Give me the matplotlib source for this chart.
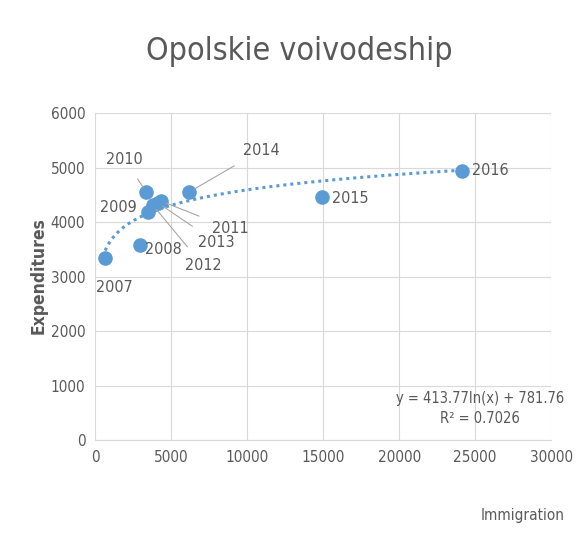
import numpy as np
import matplotlib.pyplot as plt

# data
years = ["2007", "2008", "2009", "2010", "2011", "2012", "2013", "2014", "2015", "2016"]
immigration = [660, 2960, 3480, 3360, 4340, 3800, 4140, 6180, 14930, 24140]
expenditures = [3340, 3580, 4180, 4550, 4385, 4310, 4350, 4550, 4460, 4940]

# label positions (text centre) and whether a leader line is drawn
label_pos = {
    "2007": (1300, 2800, False),
    "2008": (4500, 3500, False),
    "2009": (1500, 4260, False),
    "2010": (1950, 5150, True),
    "2011": (8900, 3880, True),
    "2012": (7100, 3200, True),
    "2013": (8000, 3620, True),
    "2014": (10950, 5320, True),
    "2015": (16800, 4440, False),
    "2016": (26000, 4950, False),
}

plt.rcParams['font.family'] = ['DejaVu Sans']
plt.rcParams['font.stretch'] = 'condensed'
gray = '#595959'
blue = '#5B9BD5'

fig = plt.figure(figsize=(5.87, 5.51), dpi=100)
ax = fig.add_axes([0.162, 0.201, 0.777, 0.594])

ax.scatter(immigration, expenditures, s=90, color=blue, zorder=3)

# logarithmic trendline
x = np.array(immigration, dtype=float)
a, b = np.polyfit(np.log(x), expenditures, 1)
xs = np.linspace(x.min(), x.max(), 300)
ax.plot(xs, a * np.log(xs) + b, linestyle=(0, (1, 1.3)), color=blue, lw=2.2, zorder=2)

for yr, xi, yi in zip(years, immigration, expenditures):
    tx, ty, line = label_pos[yr]
    ax.annotate(yr, (xi, yi), xytext=(tx, ty), ha='center', va='center',
                fontsize=11.5, color=gray,
                arrowprops=dict(arrowstyle='-', color='#a6a6a6', lw=0.8,
                                shrinkA=8, shrinkB=4) if line else None)

ax.text(25330, 580, "y = 413.77ln(x) + 781.76\nR² = 0.7026", ha='center', va='center',
        fontsize=10.5, color=gray, linespacing=1.4)

ax.set_xlim(0, 30000)
ax.set_ylim(0, 6000)
ax.set_xticks(range(0, 30001, 5000))
ax.set_yticks(range(0, 6001, 1000))
ax.grid(color='#d9d9d9', lw=0.8)
ax.set_axisbelow(True)
for s in ['top', 'right', 'left']:
    ax.spines[s].set_visible(False)
ax.spines['bottom'].set_color('#d9d9d9')
ax.tick_params(length=0, labelsize=11, labelcolor=gray, pad=7)

fig.text(0.51, 0.906, "Opolskie voivodeship", ha='center', va='center', fontsize=23, color=gray)
fig.text(0.065, 0.5, "Expenditures", rotation=90, ha='center', va='center',
         fontsize=12.5, color=gray, fontweight='bold')
fig.text(0.891, 0.065, "Immigration", ha='center', va='center', fontsize=11, color=gray)

fig.savefig('out.png', dpi=100)
